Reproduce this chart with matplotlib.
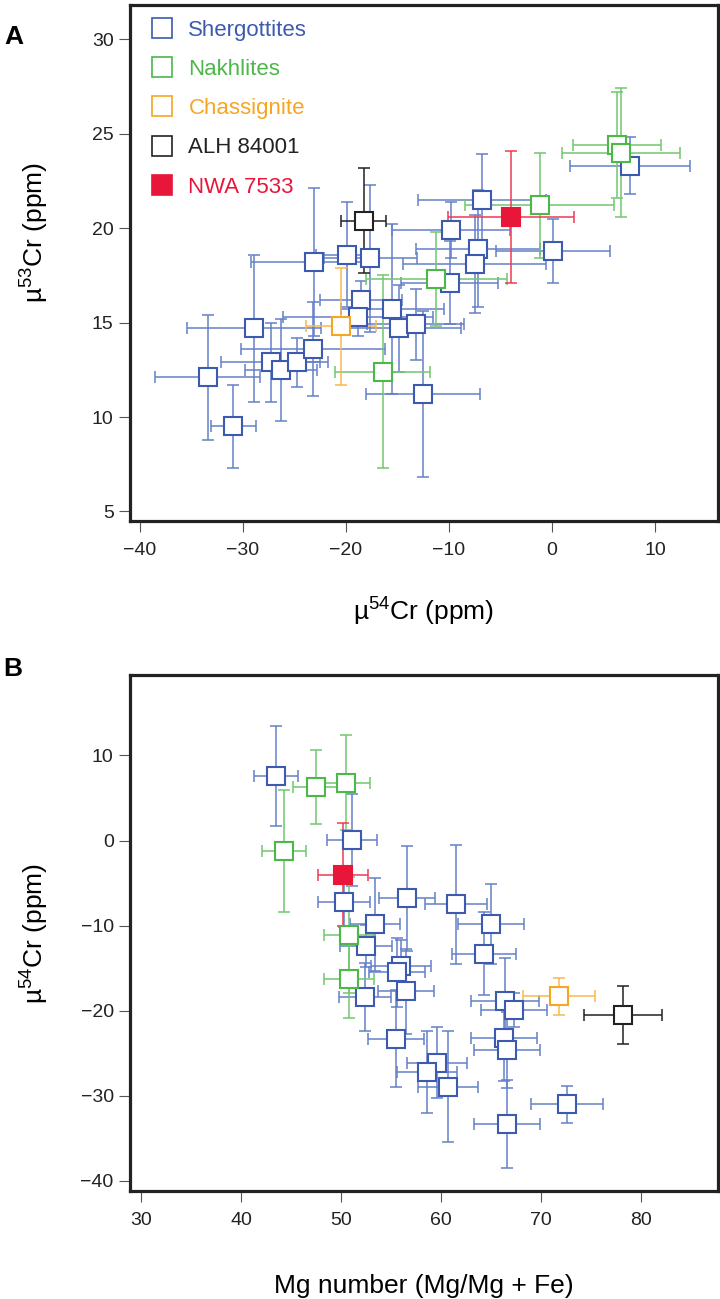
import matplotlib
matplotlib.use("Agg")
import matplotlib.pyplot as plt
from matplotlib.lines import Line2D

plt.rcParams["font.family"] = ["Liberation Sans", "DejaVu Sans"]
plt.rcParams["mathtext.fontset"] = "custom"
plt.rcParams["mathtext.rm"] = "Liberation Sans"
plt.rcParams["mathtext.it"] = "Liberation Sans:italic"

# ---- panel A: mu54Cr vs mu53Cr ----
a_sher_x = [-33.4, -30.9, -28.9, -27.3, -26.3, -24.7, -23.2, -23.1, -19.9, -17.6, -18.5, -18.8,
            -15.5, -14.8, -13.2, -12.5, -9.8, -9.9, -6.8, -7.2, -7.5, 0.1, 7.6]
a_sher_xerr = [5.1, 2.2, 6.5, 4.8, 3.5, 3.0, 7.0, 6.1, 3.0, 4.5, 4.0, 7.3,
               5.0, 6.0, 4.7, 5.5, 5.7, 4.7, 6.2, 6.0, 6.9, 5.5, 5.8]
a_sher_y = [12.1, 9.5, 14.7, 12.9, 12.5, 12.9, 13.6, 18.2, 18.6, 18.4, 16.2, 15.3,
            15.7, 14.7, 14.9, 11.2, 19.9, 17.1, 21.5, 18.9, 18.1, 18.8, 23.3]
a_sher_yerr = [3.3, 2.2, 3.9, 2.1, 2.7, 1.3, 2.5, 3.9, 2.8, 3.9, 1.0, 1.0,
               4.5, 2.3, 1.9, 4.4, 1.5, 2.2, 2.4, 3.1, 2.6, 1.7, 1.5]

a_nakh_x = [6.3, 6.7, -1.2, -11.2, -16.4]
a_nakh_xerr = [4.3, 5.7, 7.2, 6.8, 4.6]
a_nakh_y = [24.4, 24.0, 21.2, 17.3, 12.4]
a_nakh_yerr = [2.8, 3.4, 2.8, 2.5, 5.1]

a_chas_x, a_chas_xerr, a_chas_y, a_chas_yerr = [-20.5], [3.4], [14.8], [3.1]
a_alh_x, a_alh_xerr, a_alh_y, a_alh_yerr = [-18.25], [2.2], [20.4], [2.8]
a_nwa_x, a_nwa_xerr, a_nwa_y, a_nwa_yerr = [-4.0], [6.1], [20.6], [3.5]

# ---- panel B: Mg number vs mu54Cr ----
b_sher_x = [43.5, 51.05, 50.3, 56.6, 61.5, 53.4, 65.0, 52.5, 64.3, 56.0, 55.6, 56.45,
            52.4, 66.4, 67.3, 55.5, 66.3, 66.6, 59.55, 58.6, 60.7, 72.6, 66.6]
b_sher_xerr = [2.2, 2.5, 2.6, 2.8, 3.1, 2.5, 3.3, 2.6, 3.2, 3.0, 2.8, 2.8,
               2.6, 3.4, 3.3, 2.8, 3.3, 3.3, 3.0, 3.0, 3.0, 3.6, 3.3]
b_sher_y = [7.6, 0.1, -7.2, -6.8, -7.5, -9.85, -9.85, -12.4, -13.3, -14.7, -15.5, -17.7,
            -18.4, -18.8, -19.9, -23.3, -23.2, -24.6, -26.1, -27.2, -28.9, -31.0, -33.3]
b_sher_yerr = [5.9, 5.4, 3.0, 6.2, 7.0, 5.5, 4.7, 2.5, 4.9, 3.0, 4.0, 5.0,
               4.0, 5.0, 2.0, 5.7, 5.0, 4.5, 4.2, 4.8, 6.5, 2.2, 5.2]

b_nakh_x = [47.5, 50.45, 44.3, 50.8, 50.8]
b_nakh_xerr = [2.3, 2.4, 2.2, 2.5, 2.5]
b_nakh_y = [6.3, 6.8, -1.2, -11.1, -16.3]
b_nakh_yerr = [4.3, 5.6, 7.2, 6.8, 4.6]

b_chas_x, b_chas_xerr, b_chas_y, b_chas_yerr = [71.8], [3.6], [-18.3], [2.2]
b_alh_x, b_alh_xerr, b_alh_y, b_alh_yerr = [78.25], [3.9], [-20.5], [3.4]
b_nwa_x, b_nwa_xerr, b_nwa_y, b_nwa_yerr = [50.2], [2.5], [-4.0], [6.05]

labels = ["Shergottites", "Nakhlites", "Chassignite", "ALH 84001", "NWA 7533"]
colors = ["#3c5bb0", "#4cb848", "#f6a623", "#222222", "#e8173a"]
bar_colors = ["#6580c8", "#72c86e", "#f8b850", "#222222", "#ee3a55"]
faces = ["white", "white", "white", "white", "#e8173a"]


def draw_group(ax, x, xerr, y, yerr, i):
    ax.errorbar(x, y, xerr=xerr, yerr=yerr, fmt="none", ecolor=bar_colors[i],
                elinewidth=1.1, capsize=4, capthick=1.1, zorder=2)
    ax.plot(x, y, linestyle="none", marker="s", markersize=13,
            markerfacecolor=faces[i], markeredgecolor=colors[i],
            markeredgewidth=1.5, zorder=3)


def style_axes(ax):
    for sp in ax.spines.values():
        sp.set_linewidth(2.3)
        sp.set_color("#222222")
    ax.tick_params(direction="out", length=8, width=0.8, color="#555555",
                   labelsize=14, labelcolor="#222222")
    ax.tick_params(axis="x", pad=7)
    ax.tick_params(axis="y", pad=4)


fig = plt.figure(figsize=(7.2, 12.99), dpi=100)
axA = fig.add_axes([0.181, 0.599, 0.816, 0.397])
axB = fig.add_axes([0.181, 0.083, 0.816, 0.397])

groupsA = [(a_sher_x, a_sher_xerr, a_sher_y, a_sher_yerr),
           (a_nakh_x, a_nakh_xerr, a_nakh_y, a_nakh_yerr),
           (a_chas_x, a_chas_xerr, a_chas_y, a_chas_yerr),
           (a_alh_x, a_alh_xerr, a_alh_y, a_alh_yerr),
           (a_nwa_x, a_nwa_xerr, a_nwa_y, a_nwa_yerr)]
groupsB = [(b_sher_x, b_sher_xerr, b_sher_y, b_sher_yerr),
           (b_nakh_x, b_nakh_xerr, b_nakh_y, b_nakh_yerr),
           (b_chas_x, b_chas_xerr, b_chas_y, b_chas_yerr),
           (b_alh_x, b_alh_xerr, b_alh_y, b_alh_yerr),
           (b_nwa_x, b_nwa_xerr, b_nwa_y, b_nwa_yerr)]

for i, g in enumerate(groupsA):
    draw_group(axA, *g, i)
for i, g in enumerate(groupsB):
    draw_group(axB, *g, i)

axA.set_xlim(-40.9, 16.1)
axA.set_ylim(4.5, 31.8)
axA.set_xticks([-40, -30, -20, -10, 0, 10])
axA.set_yticks([5, 10, 15, 20, 25, 30])
axA.set_xlabel(r"µ$^{54}$Cr (ppm)", fontsize=19)
axA.set_ylabel(r"µ$^{53}$Cr (ppm)", fontsize=19)
axA.xaxis.set_label_coords(0.5, -0.145)
axA.yaxis.set_label_coords(-0.135, 0.56)
style_axes(axA)

axB.set_xlim(28.9, 87.7)
axB.set_ylim(-41.2, 19.4)
axB.set_xticks([30, 40, 50, 60, 70, 80])
axB.set_yticks([-40, -30, -20, -10, 0, 10])
axB.set_xlabel("Mg number (Mg/Mg + Fe)", fontsize=19)
axB.set_ylabel(r"µ$^{54}$Cr (ppm)", fontsize=19)
axB.xaxis.set_label_coords(0.5, -0.16)
axB.yaxis.set_label_coords(-0.135, 0.5)
style_axes(axB)

handles = [Line2D([], [], linestyle="none", marker="s", markersize=15,
                  markerfacecolor=faces[i], markeredgecolor=colors[i],
                  markeredgewidth=1.2) for i in range(5)]
axA.legend(handles, labels, loc="upper left", bbox_to_anchor=(0.01, 1.0),
           frameon=False, fontsize=16, labelcolor=colors, handlelength=1.0,
           handletextpad=0.7, labelspacing=0.82, borderaxespad=0.25)

fig.text(14 / 720, 1 - 37 / 1299, "A", fontsize=19, fontweight="bold", va="center", ha="center")
fig.text(13 / 720, 1 - 669 / 1299, "B", fontsize=19, fontweight="bold", va="center", ha="center")

fig.savefig("out.png", dpi=100)
